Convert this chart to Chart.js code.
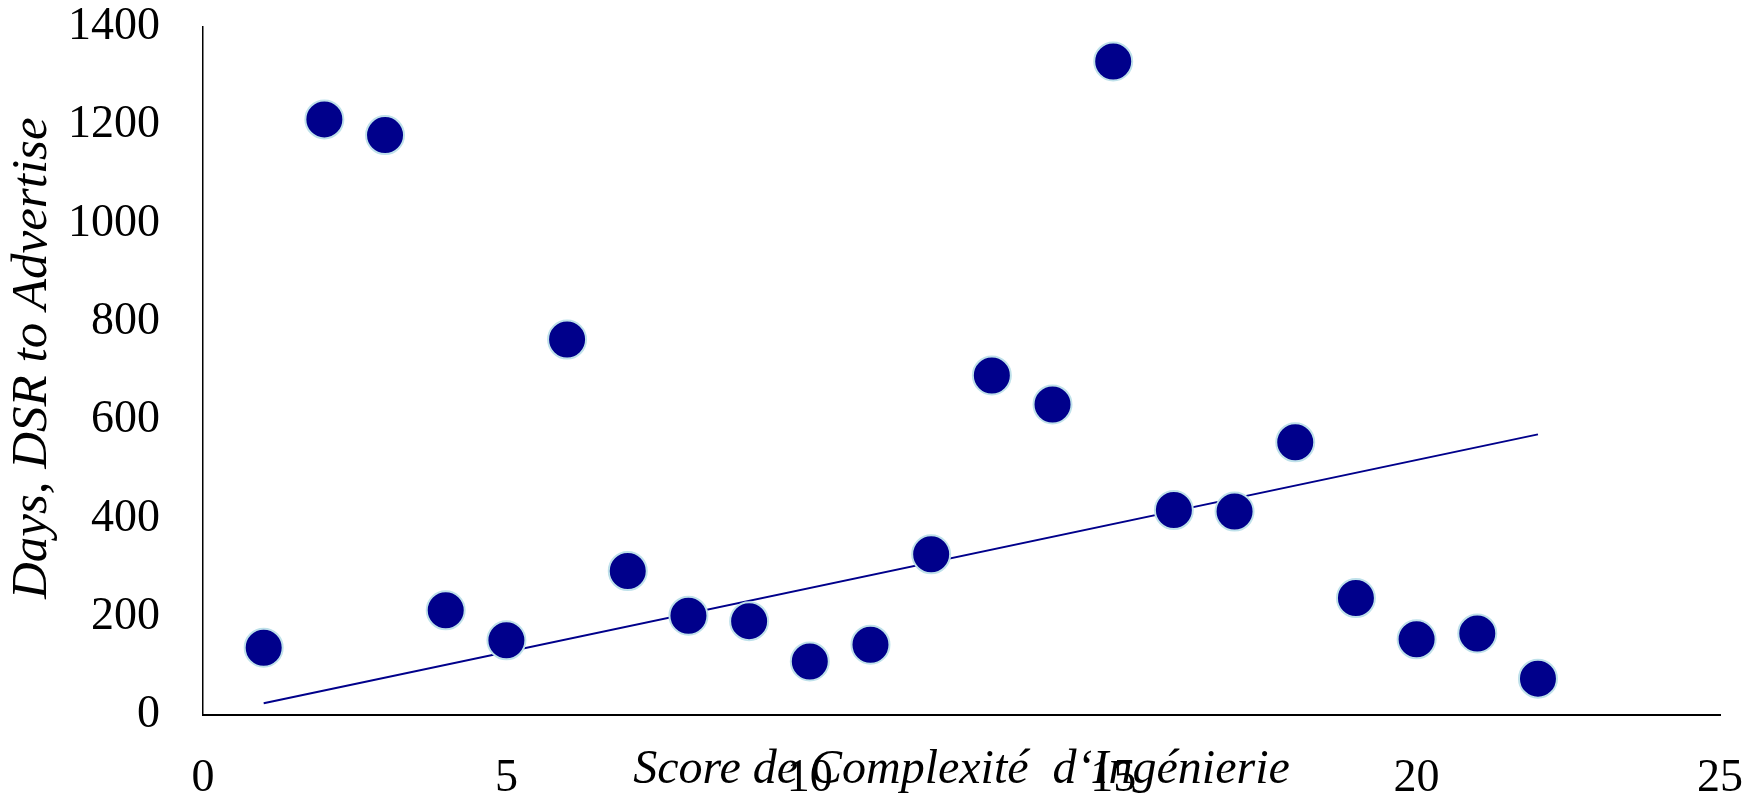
<!DOCTYPE html>
<html>
<head>
<meta charset="utf-8">
<script src="https://cdn.jsdelivr.net/npm/chart.js@4/dist/chart.umd.min.js"></script>
<style>
  html, body { margin: 0; padding: 0; background: #fff; }
  #wrap { width: 1751px; height: 799px; position: relative; }
</style>
</head>
<body>
<div id="wrap"><canvas id="chart"></canvas></div>
<script>
// score de complexité (x) vs jours (y)
const scores = [1, 2, 3, 4, 5, 6, 7, 8, 9, 10, 11, 12, 13, 14, 15, 16, 17, 18, 19, 20, 21, 22];
const days = [137, 1212, 1180, 213, 152, 764, 293, 202, 191, 109, 143, 327, 691, 632, 1330, 417, 414, 555, 238, 154, 166, 74];

// trendline endpoints
const trendX = [1, 22];
const trendY = [24, 571];

const xTicks = [0, 5, 10, 15, 20, 25];
const yTicks = [0, 200, 400, 600, 800, 1000, 1200, 1400];

const serif = '"Liberation Serif", "Times New Roman", serif';
const navy = '#00008b';

const pts = scores.map((x, i) => ({ x, y: days[i] }));
const trend = trendX.map((x, i) => ({ x, y: trendY[i] }));

new Chart(document.getElementById('chart'), {
    type: 'scatter',
    data: {
        datasets: [
            {
                label: 'Days', data: pts, order: 1,
                backgroundColor: navy, borderColor: '#bfe1ea', borderWidth: 2,
                pointRadius: 19, pointHoverRadius: 19
            },
            {
                type: 'line', label: 'Trend', data: trend, order: 2,
                borderColor: navy, borderWidth: 2, pointRadius: 0, fill: false, tension: 0
            }
        ]
    },
    options: {
        responsive: true, maintainAspectRatio: false, animation: false,
        layout: { padding: { left: 0, right: 31, top: 27, bottom: 0 } },
        plugins: { legend: { display: false }, tooltip: { enabled: false } },
        scales: {
            x: {
                type: 'linear', min: 0, max: 25,
                afterBuildTicks: s => { s.ticks = xTicks.map(v => ({ value: v })); },
                afterFit: s => { s.height = 84; s.paddingLeft = 0; s.paddingRight = 0; },
                grid: { display: false, drawTicks: false },
                border: { display: true, color: '#000', width: 2 },
                ticks: { color: '#000', padding: 36, maxRotation: 0, callback: v => String(v), font: { family: serif, size: 46 } },
                title: {
                    display: true, text: 'Score de Complexité  d‘Ingénierie', color: '#000',
                    padding: { top: 0, bottom: 0 },
                    font: { family: serif, size: 48, style: 'italic' }
                }
            },
            y: {
                type: 'linear', min: 0, max: 1400,
                afterBuildTicks: s => { s.ticks = yTicks.map(v => ({ value: v })); },
                afterFit: s => { s.width = 203; s.paddingTop = 0; s.paddingBottom = 0; },
                grid: { display: false, drawTicks: false },
                border: { display: true, color: '#000', width: 1.5 },
                ticks: { color: '#000', padding: 43, callback: v => String(v), font: { family: serif, size: 46 } },
                title: {
                    display: true, text: '  Days, DSR to Advertise', color: '#000',
                    padding: { top: 2, bottom: 0 },
                    font: { family: serif, size: 51, style: 'italic' }
                }
            }
        }
    }
});
</script>
</body>
</html>
